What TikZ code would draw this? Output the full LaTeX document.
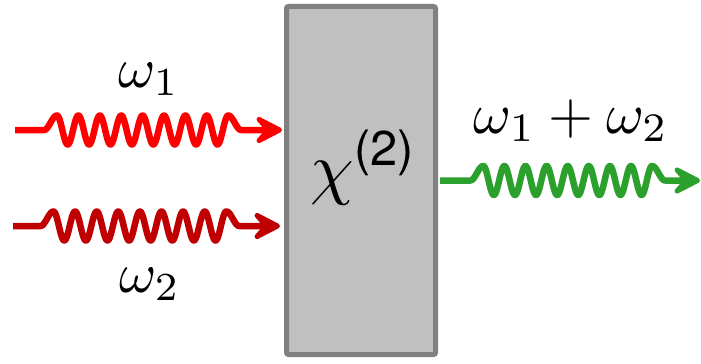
\documentclass[tikz,border=0pt]{standalone}
\usepackage{amsmath}
\usepackage{fontspec}
\newfontfamily\heros{TeX Gyre Heros}
\usetikzlibrary{arrows.meta}
\definecolor{boxfill}{RGB}{192,192,192}
\definecolor{boxline}{RGB}{128,128,128}
\definecolor{wred}{RGB}{255,0,0}
\definecolor{wdred}{RGB}{192,0,0}
\definecolor{wgreen}{RGB}{44,160,44}
% #1 colour, #2 start coord, #3 end coord, #4 centre y, #5 first crest x, #6 period, #7 onset length
\newcommand\wavyline[7]{%
  \draw[wavest,draw=#1] (#2)
    -- plot[domain=0:1,samples=30,variable=\s] ({#5-#7+#7*\s},{#4+14.5*(1-cos(180*\s))/2})
    -- plot[domain=0:8,samples=400,variable=\s] ({#5+#6*\s},{#4+14.5*cos(360*\s)})
    -- plot[domain=0:1,samples=30,variable=\s] ({#5+8*#6+#7*\s},{#4+14.5*(1+cos(180*\s))/2})
    -- (#3);}
\begin{document}
\begin{tikzpicture}[x=1bp,y=1bp,
  crystal/.style={draw=boxline,fill=boxfill,line width=5bp,rounded corners=2bp,
    minimum width=149bp,minimum height=348bp,inner sep=0pt,outer sep=0pt},
  wavest/.style={line width=6.5bp,line join=round,-{Stealth[length=36bp,width=37bp,inset=16bp,round]}},
  lbl/.style={anchor=base,inner sep=0pt,scale=5.7},
]
\useasboundingbox (0,0) rectangle (701,363);
\node[crystal] (box) at (361,182.5) {};
\node[anchor=base,inner sep=0pt,scale=7] (chi) at (364,172) {$\chi^{\text{\heros (2)}}$};
\coordinate (a1) at (15,233);
\coordinate (b1) at (282,233);
\coordinate (a2) at (13,137);
\coordinate (b2) at (280,137);
\coordinate (a3) at (440,182.5);
\coordinate (b3) at (700,182.5);
\wavyline{wred}{a1}{b1}{233}{57}{21.4}{13}
\wavyline{wdred}{a2}{b2}{137}{53.5}{21.6}{13}
\wavyline{wgreen}{a3}{b3}{182.5}{483.3}{21.1}{13}
\node[lbl] (w1) at (149,276) {$\omega_1$};
\node[lbl] (w2) at (150,71) {$\omega_2$};
\node[lbl,scale=5.8/5.7] (w3) at (571,230) {$\omega_1+\omega_2$};
\end{tikzpicture}
\end{document}
